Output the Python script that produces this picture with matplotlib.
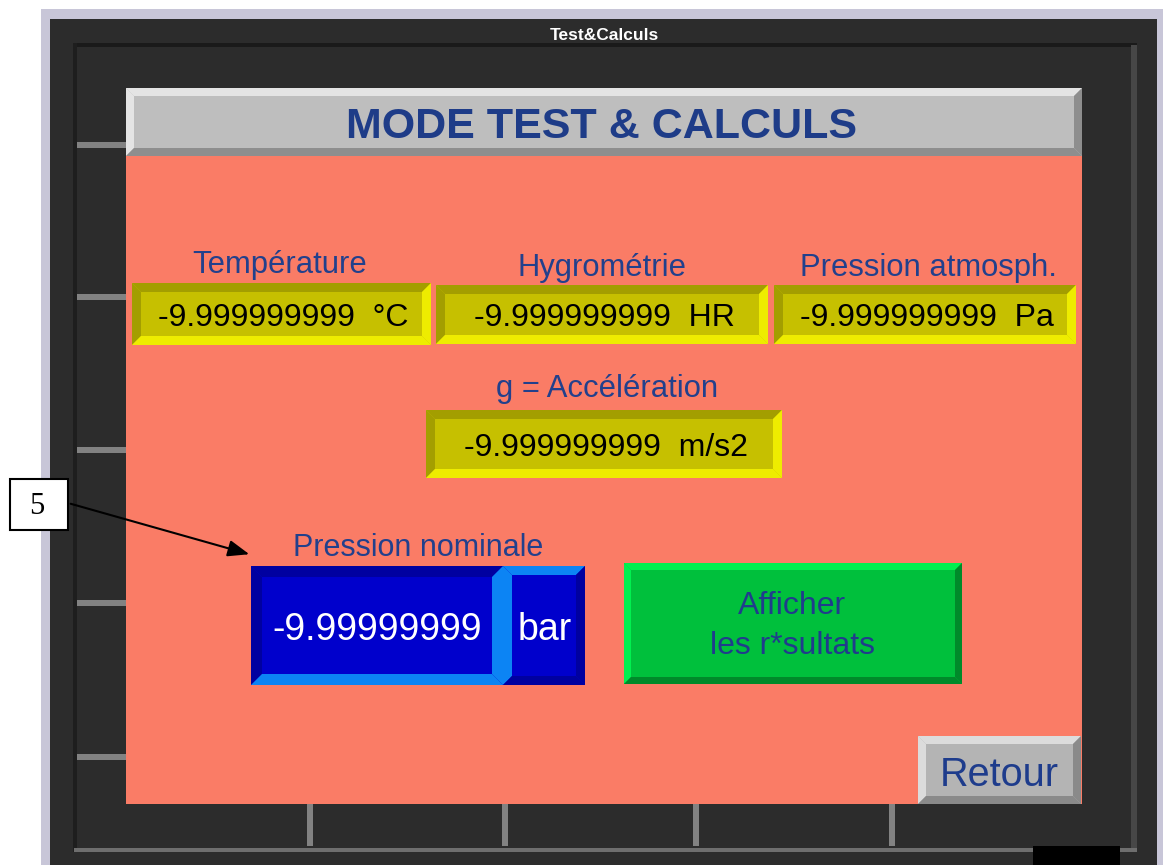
import matplotlib
matplotlib.use("Agg")
import matplotlib.pyplot as plt
from matplotlib.patches import Rectangle, Polygon

# ---- content ----
window_title = "Test&Calculs"
panel_title = "MODE TEST & CALCULS"
field_labels = ["Température", "Hygrométrie", "Pression atmosph.", "g = Accélération"]
field_values = ["-9.999999999", "-9.999999999", "-9.999999999", "-9.999999999"]
field_units = ["°C", "HR", "Pa", "m/s2"]
nominal_label = "Pression nominale"
nominal_value = "-9.99999999"
nominal_unit = "bar"
button_text = "Afficher\nles r*sultats"
back_text = "Retour"
callout_text = "5"

# ---- styles ----
SALMON = "#FA7C66"
DARK = "#2C2C2C"
LAV = "#C8C6D8"
NAVY = "#22408C"
FONT = "Liberation Sans"
DY = 3  # vertical text offset

fig = plt.figure(figsize=(11.63, 8.65), dpi=100)
ax = fig.add_axes([0, 0, 1, 1])
ax.set_xlim(0, 1163)
ax.set_ylim(865, 0)
ax.axis("off")
fig.patch.set_facecolor("white")


def rect(x0, y0, x1, y1, c, z=1):
    ax.add_patch(Rectangle((x0, y0), x1 - x0, y1 - y0, fc=c, ec="none", zorder=z))


def bevel(x0, y0, x1, y1, face, tl, br, t, z=2):
    rect(x0, y0, x1, y1, face, z)
    ax.add_patch(Polygon([(x0, y0), (x1, y0), (x1 - t, y0 + t), (x0 + t, y0 + t)], fc=tl, ec="none", zorder=z))
    ax.add_patch(Polygon([(x0, y0), (x0 + t, y0 + t), (x0 + t, y1 - t), (x0, y1)], fc=tl, ec="none", zorder=z))
    ax.add_patch(Polygon([(x0, y1), (x0 + t, y1 - t), (x1 - t, y1 - t), (x1, y1)], fc=br, ec="none", zorder=z))
    ax.add_patch(Polygon([(x1, y0), (x1, y1), (x1 - t, y1 - t), (x1 - t, y0 + t)], fc=br, ec="none", zorder=z))


# window frame
rect(41, 9, 1163, 865, LAV, 0)
rect(50, 19, 1157, 865, DARK, 0.5)
rect(73, 43, 1137, 47, "#1A1A1A", 0.6)
rect(73, 43, 77, 852, "#1E1E1E", 0.6)
rect(1131, 45, 1137, 852, "#474747", 0.6)
rect(74, 848, 1137, 852, "#6E6E6E", 0.6)
rect(1033, 846, 1120, 865, "black", 0.7)
for yt in [145, 297, 450, 603, 757]:
    rect(77, yt - 3, 126, yt + 3, "#828282", 0.8)
for xt in [310, 505, 696, 892]:
    rect(xt - 3, 804, xt + 3, 846, "#828282", 0.8)

ax.text(604, 35 + 1, window_title, color="white", fontsize=12.5, fontweight="bold",
        family=FONT, ha="center", va="center", zorder=5)

# main panel
rect(126, 155, 1082, 804, SALMON, 1)
bevel(126, 88, 1082, 156, "#BEBEBE", "#E4E4E4", "#8E8E8E", 8)
ax.text(602, 124 + DY, panel_title, color="#1E3C88", fontsize=31, fontweight="bold",
        family=FONT, ha="center", va="center", zorder=5)

# yellow indicator fields
boxes = [(132, 283, 431, 345), (436, 285, 768, 344), (774, 285, 1076, 344), (426, 410, 782, 478)]
label_pos = [(280, 262), (602, 265), (929, 265), (607, 386)]
for (x0, y0, x1, y1), (lx, ly), lab, val, unit in zip(boxes, label_pos, field_labels, field_values, field_units):
    bevel(x0, y0, x1, y1, "#C6C000", "#A39E00", "#EEEC00", 9)
    ax.text(lx, ly + DY, lab, color=NAVY, fontsize=22.3, family=FONT, ha="center", va="center", zorder=5)
    ax.text((x0 + x1) / 2 + 2, (y0 + y1) / 2 + 1 + DY, f"{val}  {unit}", color="black", fontsize=23,
            family=FONT, ha="center", va="center", zorder=5)

# nominal pressure
ax.text(418, 545 + DY, nominal_label, color=NAVY, fontsize=22, family=FONT, ha="center", va="center", zorder=5)
bevel(251, 566, 503, 685, "#0000CC", "#0000A0", "#0C84F4", 11)
bevel(503, 566, 585, 685, "#0000CC", "#0C84F4", "#0000A0", 9)
ax.text(377, 627 + DY, nominal_value, color="white", fontsize=27, family=FONT, ha="center", va="center", zorder=5)
ax.text(545, 627 + DY, nominal_unit, color="white", fontsize=27, family=FONT, ha="center", va="center", zorder=5)

# green button
bevel(624, 563, 962, 684, "#00C03C", "#00F050", "#008A2A", 7)
ax.text(792, 623 + DY, button_text, color="#203C8C", fontsize=23, family=FONT, ha="center", va="center",
        linespacing=1.4, zorder=5)

# back button
bevel(918, 736, 1081, 804, "#B4B4B4", "#DCDCDC", "#8A8A8A", 8)
ax.text(999, 772 + DY, back_text, color="#1E3C8C", fontsize=28.5, family=FONT, ha="center", va="center", zorder=5)

# callout
ax.add_patch(Rectangle((10, 479), 58, 51, fc="white", ec="black", lw=1.5, zorder=6))
ax.text(37, 506, callout_text, color="black", fontsize=22, family="Liberation Serif",
        ha="center", va="center", zorder=7)
ax.annotate("", xy=(252, 555), xytext=(68, 503),
            arrowprops=dict(arrowstyle="-|>,head_length=1.3,head_width=0.5", color="black", lw=1.5),
            zorder=7)

fig.savefig("out.png", dpi=100)
